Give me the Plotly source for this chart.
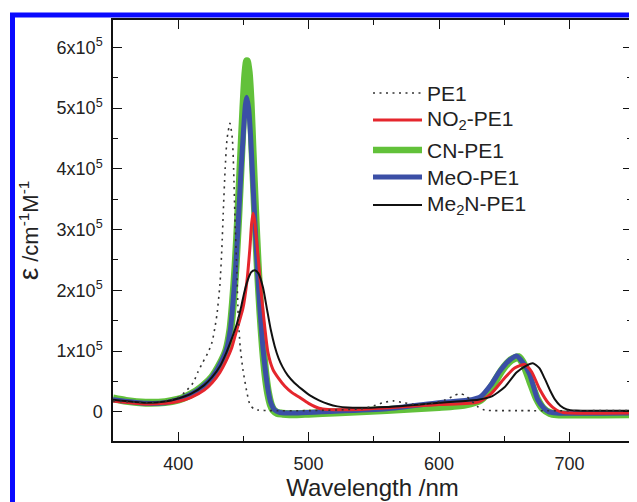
import numpy as np
import plotly.graph_objects as go

# ---------------- data (epsilon in units of 1e5 cm^-1 M^-1) ----------------
pe1_wl = [350, 380, 395, 400, 405, 411.5, 415, 419, 423, 426, 428, 429.7, 432, 433.5, 434.5, 436, 437.5,
          439.7, 441.5, 442.5, 443.5, 445, 446, 447.5, 449.6, 452.7, 455, 458, 461, 470, 500, 540, 550,
          557, 565, 573, 582, 592, 605, 612, 616, 620, 624, 630, 635, 660, 750]
pe1_eps = [0.18, 0.15, 0.2, 0.24, 0.32, 0.48, 0.65, 0.82, 0.98, 1.15, 1.37, 1.6, 2.1, 2.7, 3.25, 4.0, 4.5,
           4.75, 4.5, 4.0, 3.2, 2.3, 1.6, 1.08, 0.7, 0.32, 0.12, 0.05, 0.03, 0.02, 0.02, 0.05, 0.1,
           0.15, 0.18, 0.15, 0.12, 0.13, 0.2, 0.27, 0.3, 0.27, 0.2, 0.08, 0.03, 0.02, 0.02]

no2_wl = [350, 375, 390, 400, 410, 420, 426, 432, 437, 441, 444, 447, 449.6, 452.7, 455, 456.3, 457.4,
          458.6, 460, 461.5, 463.5, 465.7, 468.8, 472.6, 477, 481.8, 487, 493, 500, 508, 515, 540,
          600, 630, 640, 650, 658, 665.7, 671, 677, 684, 690, 695, 750]
no2_eps = [0.18, 0.13, 0.14, 0.17, 0.24, 0.36, 0.48, 0.65, 0.85, 1.05, 1.28, 1.5, 1.7, 2.15, 2.7, 3.1, 3.27,
           3.15, 2.85, 2.5, 2.0, 1.53, 0.98, 0.7, 0.55, 0.42, 0.32, 0.24, 0.14, 0.06, 0.04, 0.04,
           0.12, 0.16, 0.3, 0.55, 0.72, 0.78, 0.66, 0.38, 0.14, 0.03, -0.01, -0.02]

cn_wl = [350, 360, 375, 390, 400, 407, 414, 420, 426, 432, 437, 440, 442, 444, 446, 448, 450, 451.5, 452.7,
         454, 455.5, 457, 459, 461, 463, 465, 467, 469, 471, 473, 476, 480, 490, 500, 520, 560, 600, 620,
         632, 640, 648, 655, 661, 665, 670, 675, 680, 685, 690, 750]
cn_eps = [0.22, 0.18, 0.15, 0.16, 0.2, 0.26, 0.34, 0.44, 0.57, 0.78, 1.02, 1.35, 1.8, 2.4, 3.2, 4.1, 5.0, 5.55, 5.77,
          5.6, 5.1, 4.3, 3.3, 2.4, 1.65, 1.05, 0.6, 0.3, 0.12, 0.03, -0.02, -0.03, -0.04, -0.03, -0.01, 0.03, 0.08, 0.12,
          0.2, 0.4, 0.68, 0.85, 0.9, 0.78, 0.5, 0.22, 0.05, -0.02, -0.04, -0.04]

meo_wl = [350, 375, 390, 400, 407, 414, 420, 426, 432, 437, 440, 442, 444, 446, 448, 450, 451.5, 452.5,
          454, 455.5, 457, 459, 461, 463, 465, 467, 469, 471, 474, 478, 490, 510, 560, 600, 625,
          632, 640, 647, 654, 659.5, 664, 669.5, 675.7, 680, 684, 690, 750]
meo_eps = [0.2, 0.14, 0.15, 0.2, 0.26, 0.34, 0.44, 0.57, 0.78, 1.02, 1.35, 1.8, 2.35, 3.1, 3.9, 4.6, 5.05, 5.18,
           5.0, 4.55, 3.9, 3.05, 2.25, 1.6, 1.05, 0.65, 0.35, 0.15, 0.03, -0.01, -0.02, 0.0, 0.05, 0.15, 0.2,
           0.25, 0.45, 0.68, 0.85, 0.92, 0.82, 0.62, 0.2, 0.07, 0.0, -0.02, -0.02]

me2n_wl = [350, 375, 390, 400, 410, 420, 426, 432, 437, 441, 445, 448, 450.5, 453.5, 456, 458.8, 461.5, 465,
           468, 471, 474, 477, 480, 484, 489, 495, 501, 508, 515, 522, 530, 560, 600, 630, 640, 650,
           659.6, 666, 672, 677, 681, 685, 689, 693, 698, 705, 750]
me2n_eps = [0.2, 0.15, 0.17, 0.22, 0.3, 0.44, 0.57, 0.75, 0.98, 1.2, 1.45, 1.7, 1.95, 2.18, 2.3, 2.33, 2.28, 2.05,
            1.7, 1.35, 1.08, 0.88, 0.74, 0.6, 0.48, 0.37, 0.27, 0.19, 0.13, 0.09, 0.07, 0.08, 0.15, 0.2, 0.25, 0.4,
            0.65, 0.75, 0.8, 0.72, 0.55, 0.36, 0.2, 0.1, 0.04, 0.02, 0.02]

y_tick_vals = [0, 1, 2, 3, 4, 5, 6]
y_tick_text = ["0", "1x10<sup>5</sup>", "2x10<sup>5</sup>", "3x10<sup>5</sup>",
               "4x10<sup>5</sup>", "5x10<sup>5</sup>", "6x10<sup>5</sup>"]
x_tick_vals = [400, 500, 600, 700]

series_names = ["PE1", "NO<sub>2</sub>-PE1", "CN-PE1", "MeO-PE1", "Me<sub>2</sub>N-PE1"]

SCALE = 1e5
FONT = "Liberation Sans, Arial, sans-serif"
TXT = "#222222"

# The page body has an 8px default margin; the figure is sized so that it
# exactly fills the 637x502 window from that offset.
OFF = 8
W, H = 637 - OFF, 502 - OFF
# plot area in window pixels: x 113..632, y 20..441
L, R, T, B = 113 - OFF, 637 - 632, 20 - OFF, 502 - 441
PW, PH = W - L - R, H - T - B

def px2paper_x(px):
    return (px - OFF - L) / PW

def px2paper_y(py):
    return (H - B - (py - OFF)) / PH

styles = {
    "PE1": dict(color="#333333", width=1.6, dash="2px,4.5px"),
    "NO<sub>2</sub>-PE1": dict(color="#e5262d", width=3, dash="solid"),
    "CN-PE1": dict(color="#62c13a", width=8, dash="solid"),
    "MeO-PE1": dict(color="#3b4fa6", width=5, dash="solid"),
    "Me<sub>2</sub>N-PE1": dict(color="#111111", width=2, dash="solid"),
}
data = {
    "PE1": (pe1_wl, pe1_eps),
    "NO<sub>2</sub>-PE1": (no2_wl, no2_eps),
    "CN-PE1": (cn_wl, cn_eps),
    "MeO-PE1": (meo_wl, meo_eps),
    "Me<sub>2</sub>N-PE1": (me2n_wl, me2n_eps),
}

fig = go.Figure()
draw_order = ["CN-PE1", "MeO-PE1", "NO<sub>2</sub>-PE1", "Me<sub>2</sub>N-PE1", "PE1"]
for name in draw_order:
    wl, eps = data[name]
    st = styles[name]
    fig.add_trace(go.Scatter(
        x=wl, y=np.array(eps) * SCALE, name=name, mode="lines", showlegend=False,
        line=dict(color=st["color"], width=st["width"], dash=st["dash"], shape="spline", smoothing=0.6)))

# manual legend (long line samples like the reference)
legend_rows_py = [93, 120, 150, 177, 205]
for name, py in zip(series_names, legend_rows_py):
    st = styles[name]
    fig.add_shape(type="line", xref="paper", yref="paper",
                  x0=px2paper_x(373), x1=px2paper_x(422), y0=px2paper_y(py), y1=px2paper_y(py),
                  line=dict(color=st["color"], width=min(st["width"], 6.5), dash=st["dash"]))
    fig.add_annotation(xref="paper", yref="paper", x=px2paper_x(425), y=px2paper_y(py),
                       text=name, showarrow=False, xanchor="left", yanchor="middle",
                       font=dict(family=FONT, size=21, color=TXT))

axis_common = dict(
    showline=True, linecolor="#111", linewidth=1.5, mirror="allticks",
    ticks="inside", ticklen=9, tickwidth=1.3, tickcolor="#111",
    showgrid=False, zeroline=False, automargin=False,
    tickfont=dict(family=FONT, size=18, color=TXT),
)

fig.update_xaxes(
    range=[350, 748], tickvals=x_tick_vals, ticklabelstandoff=6,
    minor=dict(ticks="inside", ticklen=5, tickwidth=1.3, tickcolor="#111", dtick=50, tick0=0, showgrid=False),
    title=dict(text="Wavelength /nm", font=dict(family=FONT, size=24, color=TXT), standoff=4),
    **axis_common)
fig.update_yaxes(
    range=[-0.48 * SCALE, 6.45 * SCALE],
    tickvals=[v * SCALE for v in y_tick_vals], ticktext=y_tick_text, ticklabelstandoff=5,
    minor=dict(ticks="inside", ticklen=5, tickwidth=1.3, tickcolor="#111", dtick=0.5 * SCALE, tick0=0, showgrid=False),
    title=dict(text="<span style='font-size:28px'>ε</span> /cm<sup>-1</sup>M<sup>-1</sup>",
               font=dict(family=FONT, size=22, color=TXT), standoff=12),
    **axis_common)

# blue frame around the figure (left, top, right)
fig.add_shape(type="rect", xref="paper", yref="paper",
              x0=px2paper_x(12.5), x1=px2paper_x(635),
              y0=px2paper_y(560), y1=px2paper_y(15),
              line=dict(color="#0a0aff", width=5), layer="above")

fig.update_layout(
    width=W, height=H,
    margin=dict(l=L, r=R, t=T, b=B),
    paper_bgcolor="white", plot_bgcolor="white",
    font=dict(family=FONT, size=18, color=TXT),
    showlegend=False,
)

fig.write_html("out.html")
